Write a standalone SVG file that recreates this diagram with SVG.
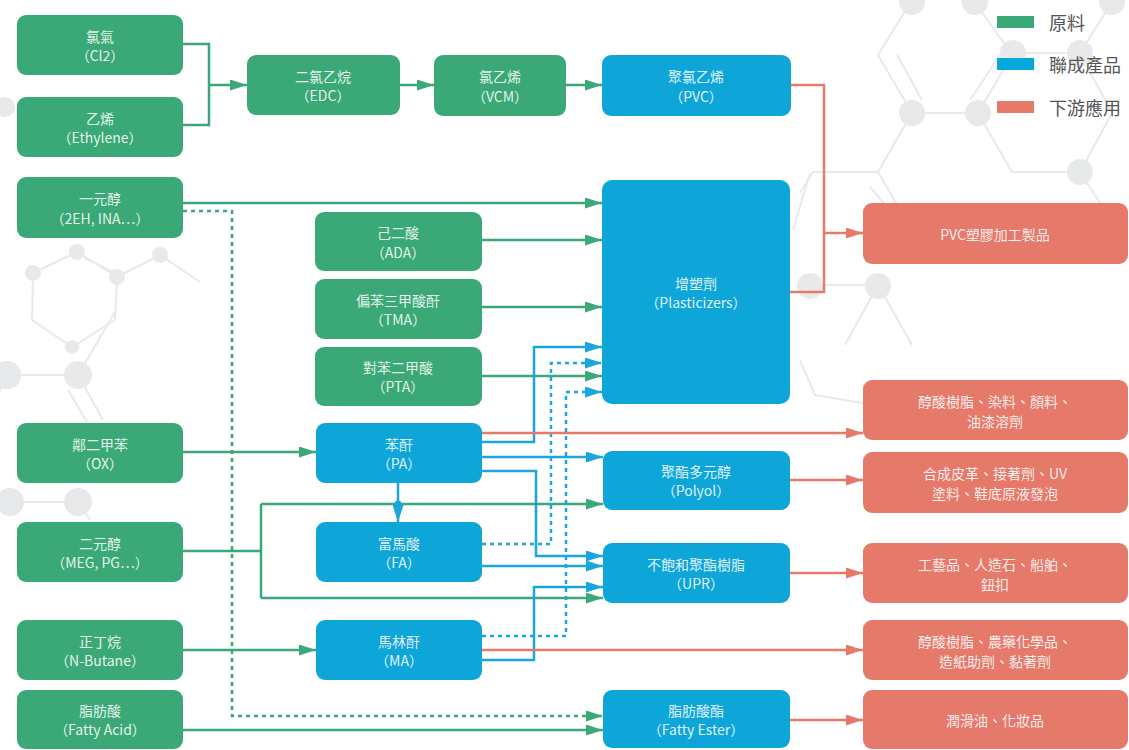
<svg xmlns="http://www.w3.org/2000/svg" width="1129" height="750" viewBox="0 0 1129 750">
<style>
.bgl{fill:none;stroke:#e7e9ea;stroke-width:2}
.bgc{fill:#e7e9ea}
.g{fill:#3aa977}
.b{fill:#0ea6d9}
.r{fill:#e5796a}
.t{font-family:"Noto Sans CJK TC","Liberation Sans",sans-serif;font-size:14px;fill:#ffffff;fill-opacity:0.88;text-anchor:middle;dominant-baseline:central}
.lg{font-family:"Noto Sans CJK TC","Liberation Sans",sans-serif;font-size:18px;fill:#555555;dominant-baseline:central}
.cg{fill:none;stroke:#3aa977;stroke-width:2.5}
.cb{fill:none;stroke:#1aa6dc;stroke-width:2.5}
.cr{fill:none;stroke:#e5796a;stroke-width:2.5}
.d{stroke-dasharray:4 4}
</style>
<defs>
<marker id="ag" markerUnits="userSpaceOnUse" markerWidth="17" markerHeight="11" refX="17" refY="5.5" orient="auto"><path d="M0,0 L17,5.5 L0,11 z" fill="#3aa977"/></marker>
<marker id="ab" markerUnits="userSpaceOnUse" markerWidth="17" markerHeight="11" refX="17" refY="5.5" orient="auto"><path d="M0,0 L17,5.5 L0,11 z" fill="#1aa6dc"/></marker>
<marker id="ar" markerUnits="userSpaceOnUse" markerWidth="17" markerHeight="11" refX="17" refY="5.5" orient="auto"><path d="M0,0 L17,5.5 L0,11 z" fill="#e5796a"/></marker>
</defs>
<rect width="1129" height="750" fill="#ffffff"/>
<g id="background">
<path class="bgl" d="M912,0 L878,55 L912,113 L978,113 L1012,55 L975,2 M897,55 L922,100 M970,100 L1000,55 M1013,53 L1080,53 L1112,2 M1080,53 L1112,113 M978,113 L1012,172 L1080,172 L1112,113 M912,113 L878,172 L813,172 L800,193 M878,172 L912,230 M870,187 L887,207 M1080,172 L1100,203 M793,230 L810,173 M810,285 L878,285 L912,345 M878,285 L845,345 M800,360 L815,395 L863,403"/>
<circle class="bgc" cx="912" cy="2" r="13"/><circle class="bgc" cx="975" cy="2" r="13"/><circle class="bgc" cx="1112" cy="2" r="13"/>
<circle class="bgc" cx="1013" cy="53" r="13"/><circle class="bgc" cx="1080" cy="53" r="13"/>
<circle class="bgc" cx="912" cy="113" r="13"/><circle class="bgc" cx="978" cy="113" r="13"/>
<circle class="bgc" cx="1080" cy="172" r="13"/>
<circle class="bgc" cx="810" cy="286" r="13"/><circle class="bgc" cx="878" cy="286" r="13"/>
<path class="bgl" d="M33,273 L77,252 L117,277 L115,320 L72,347 L32,320 Z M117,277 L160,255 L200,282 M85,258 L115,273 M7,375 L78,375 L115,312 M78,375 L103,420 M68,390 L87,422 M7,375 L-5,400 M10,502 L78,502 L90,520"/>
<circle class="bgc" cx="33" cy="273" r="8"/><circle class="bgc" cx="77" cy="252" r="8"/><circle class="bgc" cx="117" cy="277" r="8"/><circle class="bgc" cx="160" cy="255" r="8"/><circle class="bgc" cx="72" cy="347" r="7"/>
<circle class="bgc" cx="7" cy="375" r="14"/><circle class="bgc" cx="78" cy="375" r="14"/>
<circle class="bgc" cx="10" cy="502" r="14"/><circle class="bgc" cx="78" cy="502" r="14"/><circle class="bgc" cx="5" cy="107" r="10"/>
</g>
<g id="legend">
<rect x="997" y="16" width="37" height="12" class="g"/><text class="lg" x="1049" y="22">原料</text>
<rect x="997" y="58" width="37" height="12" fill="#05a8dc"/><text class="lg" x="1049" y="64">聯成產品</text>
<rect x="997" y="101" width="37" height="12" class="r"/><text class="lg" x="1049" y="107">下游應用</text>
</g>
<g id="connectors">
<path class="cg" d="M183,44 H209 V125 H183"/>
<path class="cg" d="M209,85 H247" marker-end="url(#ag)"/>
<path class="cg" d="M400,85 H434" marker-end="url(#ag)"/>
<path class="cg" d="M566,85 H602" marker-end="url(#ag)"/>
<path class="cg" d="M183,203 H602" marker-end="url(#ag)"/>
<path class="cg d" d="M183,211 H232 V716 H603" marker-end="url(#ag)"/>
<path class="cg" d="M482,240 H602" marker-end="url(#ag)"/>
<path class="cg" d="M482,307 H602" marker-end="url(#ag)"/>
<path class="cg" d="M482,376 H602" marker-end="url(#ag)"/>
<path class="cg" d="M183,452 H316" marker-end="url(#ag)"/>
<path class="cg" d="M183,551 H261"/>
<path class="cg" d="M261,504 V598"/>
<path class="cg" d="M261,504 H603" marker-end="url(#ag)"/>
<path class="cg" d="M261,598 H603" marker-end="url(#ag)"/>
<path class="cg" d="M183,650 H316" marker-end="url(#ag)"/>
<path class="cg" d="M183,730 H603" marker-end="url(#ag)"/>
<path class="cb" d="M482,442 H534 V347 H602" marker-end="url(#ab)"/>
<path class="cb d" d="M482,544 H551 V363 H602" marker-end="url(#ab)"/>
<path class="cb d" d="M482,636 H566 V392 H602" marker-end="url(#ab)"/>
<path class="cb" d="M482,457 H603" marker-end="url(#ab)"/>
<path class="cb" d="M482,471 H536 V556 H603" marker-end="url(#ab)"/>
<path class="cb" d="M482,566 H603" marker-end="url(#ab)"/>
<path class="cb" d="M482,660 H534 V587 H603" marker-end="url(#ab)"/>
<path class="cb" d="M398,483 V522" marker-end="url(#ab)"/>
<circle cx="398" cy="504" r="3.5" fill="#1aa6dc"/>
<path class="cr" d="M790,85 H824 V292 H790"/>
<path class="cr" d="M824,233 H863" marker-end="url(#ar)"/>
<path class="cr" d="M482,433 H863" marker-end="url(#ar)"/>
<path class="cr" d="M790,480 H863" marker-end="url(#ar)"/>
<path class="cr" d="M790,573 H863" marker-end="url(#ar)"/>
<path class="cr" d="M482,650 H863" marker-end="url(#ar)"/>
<path class="cr" d="M790,720 H863" marker-end="url(#ar)"/>
</g>
<g id="n_cl2"><rect class="g" x="17" y="15" width="166" height="60" rx="9"/><text class="t" x="100" y="36">氯氣</text><text class="t" x="100" y="55">（Cl2）</text></g>
<g id="n_ethylene"><rect class="g" x="17" y="97" width="166" height="60" rx="9"/><text class="t" x="100" y="118">乙烯</text><text class="t" x="100" y="137">（Ethylene）</text></g>
<g id="n_mono"><rect class="g" x="17" y="177" width="166" height="61" rx="9"/><text class="t" x="100" y="198">一元醇</text><text class="t" x="100" y="218">（2EH, INA…）</text></g>
<g id="n_ox"><rect class="g" x="17" y="423" width="166" height="60" rx="9"/><text class="t" x="100" y="444">鄰二甲苯</text><text class="t" x="100" y="463">（OX）</text></g>
<g id="n_meg"><rect class="g" x="17" y="522" width="166" height="60" rx="9"/><text class="t" x="100" y="543">二元醇</text><text class="t" x="100" y="562">（MEG, PG…）</text></g>
<g id="n_butane"><rect class="g" x="17" y="620" width="166" height="60" rx="9"/><text class="t" x="100" y="641">正丁烷</text><text class="t" x="100" y="660">（N-Butane）</text></g>
<g id="n_fattyacid"><rect class="g" x="17" y="690" width="166" height="59" rx="9"/><text class="t" x="100" y="710">脂肪酸</text><text class="t" x="100" y="729">（Fatty Acid）</text></g>
<g id="n_edc"><rect class="g" x="247" y="55" width="153" height="60" rx="9"/><text class="t" x="323" y="76">二氯乙烷</text><text class="t" x="323" y="95">（EDC）</text></g>
<g id="n_vcm"><rect class="g" x="434" y="55" width="132" height="61" rx="9"/><text class="t" x="500" y="76">氯乙烯</text><text class="t" x="500" y="96">（VCM）</text></g>
<g id="n_pvc"><rect class="b" x="602" y="55" width="189" height="61" rx="9"/><text class="t" x="696" y="76">聚氯乙烯</text><text class="t" x="696" y="96">（PVC）</text></g>
<g id="n_ada"><rect class="g" x="315" y="212" width="167" height="59" rx="9"/><text class="t" x="398" y="232">己二酸</text><text class="t" x="398" y="252">（ADA）</text></g>
<g id="n_tma"><rect class="g" x="315" y="279" width="167" height="60" rx="9"/><text class="t" x="398" y="300">偏苯三甲酸酐</text><text class="t" x="398" y="319">（TMA）</text></g>
<g id="n_pta"><rect class="g" x="315" y="347" width="167" height="59" rx="9"/><text class="t" x="398" y="367">對苯二甲酸</text><text class="t" x="398" y="386">（PTA）</text></g>
<g id="n_pa"><rect class="b" x="316" y="423" width="166" height="60" rx="9"/><text class="t" x="399" y="444">苯酐</text><text class="t" x="399" y="463">（PA）</text></g>
<g id="n_fa"><rect class="b" x="316" y="522" width="166" height="60" rx="9"/><text class="t" x="399" y="543">富馬酸</text><text class="t" x="399" y="562">（FA）</text></g>
<g id="n_ma"><rect class="b" x="316" y="620" width="166" height="60" rx="9"/><text class="t" x="399" y="641">馬林酐</text><text class="t" x="399" y="660">（MA）</text></g>
<g id="n_plasticizers"><rect class="b" x="602" y="180" width="188" height="224" rx="10"/><text class="t" x="696" y="283">增塑劑</text><text class="t" x="696" y="302">（Plasticizers）</text></g>
<g id="n_polyol"><rect class="b" x="603" y="451" width="187" height="59" rx="9"/><text class="t" x="696" y="471">聚酯多元醇</text><text class="t" x="696" y="490">（Polyol）</text></g>
<g id="n_upr"><rect class="b" x="603" y="543" width="187" height="60" rx="9"/><text class="t" x="696" y="564">不飽和聚酯樹脂</text><text class="t" x="696" y="583">（UPR）</text></g>
<g id="n_fattyester"><rect class="b" x="603" y="690" width="187" height="58" rx="9"/><text class="t" x="696" y="710">脂肪酸酯</text><text class="t" x="696" y="729">（Fatty Ester）</text></g>
<g id="n_pvcproducts"><rect class="r" x="863" y="203" width="265" height="61" rx="9"/><text class="t" x="995" y="234">PVC塑膠加工製品</text></g>
<g id="n_alkyd1"><rect class="r" x="863" y="380" width="265" height="60" rx="9"/><text class="t" x="995" y="401">醇酸樹脂、染料、顏料、</text><text class="t" x="995" y="421">油漆溶劑</text></g>
<g id="n_leather"><rect class="r" x="863" y="452" width="265" height="61" rx="9"/><text class="t" x="995" y="473">合成皮革、接著劑、UV</text><text class="t" x="995" y="493">塗料、鞋底原液發泡</text></g>
<g id="n_crafts"><rect class="r" x="863" y="543" width="265" height="60" rx="9"/><text class="t" x="995" y="564">工藝品、人造石、船舶、</text><text class="t" x="995" y="584">鈕扣</text></g>
<g id="n_alkyd2"><rect class="r" x="863" y="620" width="265" height="60" rx="9"/><text class="t" x="995" y="641">醇酸樹脂、農藥化學品、</text><text class="t" x="995" y="661">造紙助劑、黏著劑</text></g>
<g id="n_lube"><rect class="r" x="863" y="690" width="265" height="59" rx="9"/><text class="t" x="995" y="720">潤滑油、化妝品</text></g>
</svg>
